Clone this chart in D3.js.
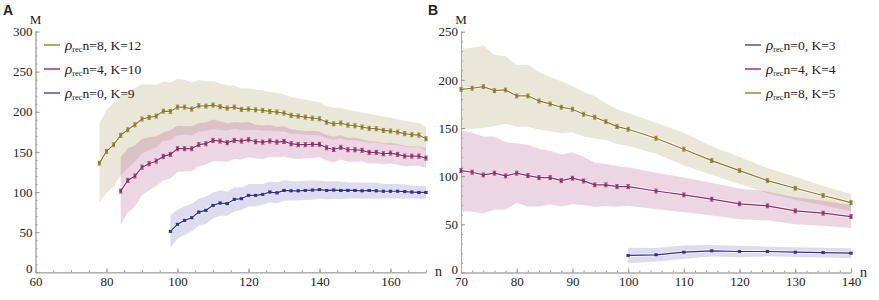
<!DOCTYPE html>
<html>
<head>
<meta charset="utf-8">
<script src="https://cdnjs.cloudflare.com/ajax/libs/d3/7.8.5/d3.min.js"></script>
<style>
body{margin:0;background:#fff;}
svg text, svg tspan{font-family:"Liberation Serif","Times New Roman",serif;fill:#222;}
</style>
</head>
<body>
<svg width="879" height="300"></svg>
<script>
// panel A data
var nA = [78,80,82,84,86,88,90,92,94,96,98,100,102,104,106,108,110,112,114,116,118,120,122,124,126,128,130,132,134,136,138,140,142,144,146,148,150,152,154,156,158,160,162,164,166,168,170];
var olA = [136,150.6,159,170.6,177.6,183.8,191,193,194.6,200.8,200.4,205.8,205.8,203.4,207.5,207,208.3,206.3,204.6,205.8,203,203.4,202.5,201.7,200.4,199.6,198.4,195.5,194.6,193.4,192,191.3,187,185,186,183.4,182.6,181,179.3,178.9,176.8,176,174.7,172.7,171.4,171,166.4];
var olAsd = [49,52,52,50,48,46,43,41,39,37,36,35,34,33,32,31,30,29,28,27,26,26,25,25,24,24,23,23,22,22,21,21,20,20,19,19,18,18,18,17,17,17,16,16,16,15,15];
var pkA = [101.2,114.5,120,131,135.3,138.6,144.4,146.9,154,154,154,159,160.2,164.3,163.5,161.5,164.3,163.5,165.2,162.7,162.2,163.5,162.2,163,160.2,159,159,159.4,159.4,155.2,153,155.6,152.7,152.7,151.9,149.4,149.4,147.7,148.5,146.9,144.8,144.8,144.8,142.3];
var pkAsd = [42,40,38,35,33,31,30,30,29,28,28,27,26,26,25,24,23,23,22,21,21,20,19,19,18,18,17,17,16,16,16,15,15,15,14,14,14,13,13,13,13,12,12,12];
var blA = [51,59.8,64.7,68,75,77.2,83.4,86.3,85.5,90.9,91.7,95.9,95.9,97.1,100,99,102,101.5,101.5,102,102.5,103,102,102.5,102,102,102,101.5,102,101.5,101,101,101,100.5,100,99.5,99.5];
var blAsd = [20,18,18,17,17,17,16,16,15,15,14,14,14,13,13,13,13,12,12,12,12,11,11,11,11,10,10,10,10,10,9,9,9,9,8,8,8];

// panel B data
var nB = [70,72,74,76,78,80,82,84,86,88,90,92,94,96,98,100,105,110,115,120,125,130,135,140];
var nBblue = [100,105,110,115,120,125,130,135,140];
var olB = [190.2,191.3,193,188.8,189.5,183.3,183.3,178.1,175,171.6,169.5,164.3,161.2,156.6,151.5,148.7,139.4,128,116.2,105.8,95.4,87.5,79.9,72.6];
var olBsd = [42,42,43,37,35,32,32,30,28,27,24,23,22,19,18,17,16,17,15,14,13,12,10,9];
var pkB = [105.8,104.1,101.3,103.1,100.3,103.1,100.6,98.5,98.5,95.4,97.9,95.1,91,91,89.2,89.2,84.6,80.6,76.1,71.3,69.2,64,61.6,58.1];
var pkBsd = [42,41,40,38,35,31,32,30,28,27,27,25,23,22,21,20,19,18,17,16,15,14,13,12];
var blB = [17.7,18.4,21.1,22.5,21.8,21.8,21.1,20.7,20.1];
var blBsd = [8,7,7,6,6,5,5,5,5];

var ticksAx = [60,80,100,120,140,160];
var ticksAy = [0,50,100,150,200,250,300];
var ticksBx = [70,80,90,100,110,120,130,140];
var ticksBy = [0,50,100,150,200,250];

var col = {blue:'#2f2f95', pink:'#952a66', olive:'#8a7b24'};
var band = {blue:'#5050aa', pink:'#a03278', olive:'#96873c'};
var serif = '"Liberation Serif","Times New Roman",serif';

var svg = d3.select('svg');

function panel(p){
	var g = svg.append('g');
	var x = d3.scaleLinear().domain(p.xdom).range(p.xr);
	var y = d3.scaleLinear().domain(p.ydom).range(p.yr);

	// bands
	p.series.forEach(function(s){
		var pts = s.n.map(function(n,i){ return {n:n, m:s.m[i], sd:s.sd[i]}; });
		g.append('path').datum(pts)
			.attr('d', d3.area().x(d=>x(d.n)).y0(d=>y(d.m-d.sd)).y1(d=>y(d.m+d.sd)))
			.attr('fill', band[s.c]).attr('fill-opacity', 0.2);
	});

	// axes
	var minX = d3.range(p.xdom[0], p.xdom[1]+0.01, p.xminor);
	var minY = d3.range(p.ydom[0], p.ydom[1]+0.01, 10);
	var ax = g.append('g').attr('transform','translate(0,'+p.yr[0]+')');
	ax.call(d3.axisBottom(x).tickValues(minX).tickSize(-2).tickSizeOuter(0).tickFormat(''));
	ax.append('g').call(d3.axisBottom(x).tickValues(p.xt).tickSize(-4).tickSizeOuter(0).tickPadding(4).tickFormat(d3.format('d')));
	var ay = g.append('g').attr('transform','translate('+p.xr[0]+',0)');
	ay.call(d3.axisLeft(y).tickValues(minY).tickSize(-2).tickSizeOuter(0).tickFormat(''));
	ay.append('g').call(d3.axisLeft(y).tickValues(p.yt).tickSize(-4).tickSizeOuter(0).tickPadding(3).tickFormat(d3.format('d')));
	g.selectAll('.domain').attr('stroke','#aaa');
	g.selectAll('.tick line').attr('stroke','#999');
	g.selectAll('.tick text').attr('font-size',13).style('font-family',serif).attr('fill','#222');
	// lift the 0 on the y axis a little, as in the original
	ay.selectAll('.tick text').filter(d => d === 0).attr('dy','0.05em');

	g.append('text').attr('x', p.xr[1]+9).attr('y', p.yr[0]+4).attr('font-size',14).text('n');
	g.append('text').attr('x', p.xr[0]).attr('y', 24).attr('text-anchor','middle').attr('font-size',13).text('M');
	g.append('text').attr('x', p.lx).attr('y', 15).attr('font-size',14).attr('font-weight','bold')
		.style('font-family','"Liberation Sans",Arial,sans-serif').text(p.label);

	// lines, error bars, markers
	p.series.forEach(function(s){
		var pts = s.n.map(function(n,i){ return {n:n, m:s.m[i]}; });
		var line = d3.line().x(d=>x(d.n)).y(d=>y(d.m));
		g.append('path').datum(pts).attr('d', line).attr('fill','none').attr('stroke','#fff').attr('stroke-width',3).attr('stroke-opacity',0.8);
		g.append('path').datum(pts).attr('d', line).attr('fill','none').attr('stroke',col[s.c]).attr('stroke-width',1.2);
		var eb = g.append('g').attr('stroke', col[s.c]).attr('stroke-width',0.8);
		eb.selectAll('line.v').data(pts).enter().append('line')
			.attr('x1',d=>x(d.n)).attr('x2',d=>x(d.n)).attr('y1',d=>y(d.m-s.err)).attr('y2',d=>y(d.m+s.err));
		eb.selectAll('line.t').data(pts).enter().append('line')
			.attr('x1',d=>x(d.n)-1.8).attr('x2',d=>x(d.n)+1.8).attr('y1',d=>y(d.m+s.err)).attr('y2',d=>y(d.m+s.err));
		eb.selectAll('line.b').data(pts).enter().append('line')
			.attr('x1',d=>x(d.n)-1.8).attr('x2',d=>x(d.n)+1.8).attr('y1',d=>y(d.m-s.err)).attr('y2',d=>y(d.m-s.err));
		g.append('g').selectAll('rect').data(pts).enter().append('rect')
			.attr('x',d=>x(d.n)-1.4).attr('y',d=>y(d.m)-1.4).attr('width',2.8).attr('height',2.8)
			.attr('fill', col[s.c]);
	});

	// legend
	var lg = g.append('g');
	p.legend.forEach(function(l,i){
		var ly = 45 + i*24;
		lg.append('line').attr('x1',p.legx).attr('x2',p.legx+16).attr('y1',ly).attr('y2',ly)
			.attr('stroke', band[l.c]).attr('stroke-opacity',0.75).attr('stroke-width',2);
		var t = lg.append('text').attr('x',p.legx+21).attr('y',ly+4.5).attr('font-size',13.5).style('font-family',serif);
		t.append('tspan').attr('font-style','italic').attr('font-size',15).text('ρ');
		t.append('tspan').attr('font-size',8.5).attr('dy',2).text('rec');
		t.append('tspan').attr('dy',-2).text(l.t);
	});
}

panel({
	label:'A', lx:3,
	xdom:[60,170], xr:[35.5,426], ydom:[0,300], yr:[272.3,31.5],
	xt:ticksAx, yt:ticksAy, xminor:5,
	legx:44,
	series:[
		{c:'olive', n:nA, m:olA, sd:olAsd, err:2.5},
		{c:'pink', n:nA.slice(3), m:pkA, sd:pkAsd, err:2.5},
		{c:'blue', n:nA.slice(10), m:blA, sd:blAsd, err:1.2}
	],
	legend:[{c:'olive', t:'n=8, K=12'},{c:'pink', t:'n=4, K=10'},{c:'blue', t:'n=0, K=9'}]
});

panel({
	label:'B', lx:428,
	xdom:[70,140], xr:[461,851], ydom:[0,250], yr:[272.5,31.7],
	xt:ticksBx, yt:ticksBy, xminor:2,
	legx:745,
	series:[
		{c:'olive', n:nB, m:olB, sd:olBsd, err:2},
		{c:'pink', n:nB, m:pkB, sd:pkBsd, err:2},
		{c:'blue', n:nBblue, m:blB, sd:blBsd, err:0.8}
	],
	legend:[{c:'blue', t:'n=0, K=3'},{c:'pink', t:'n=4, K=4'},{c:'olive', t:'n=8, K=5'}]
});
</script>
</body>
</html>
